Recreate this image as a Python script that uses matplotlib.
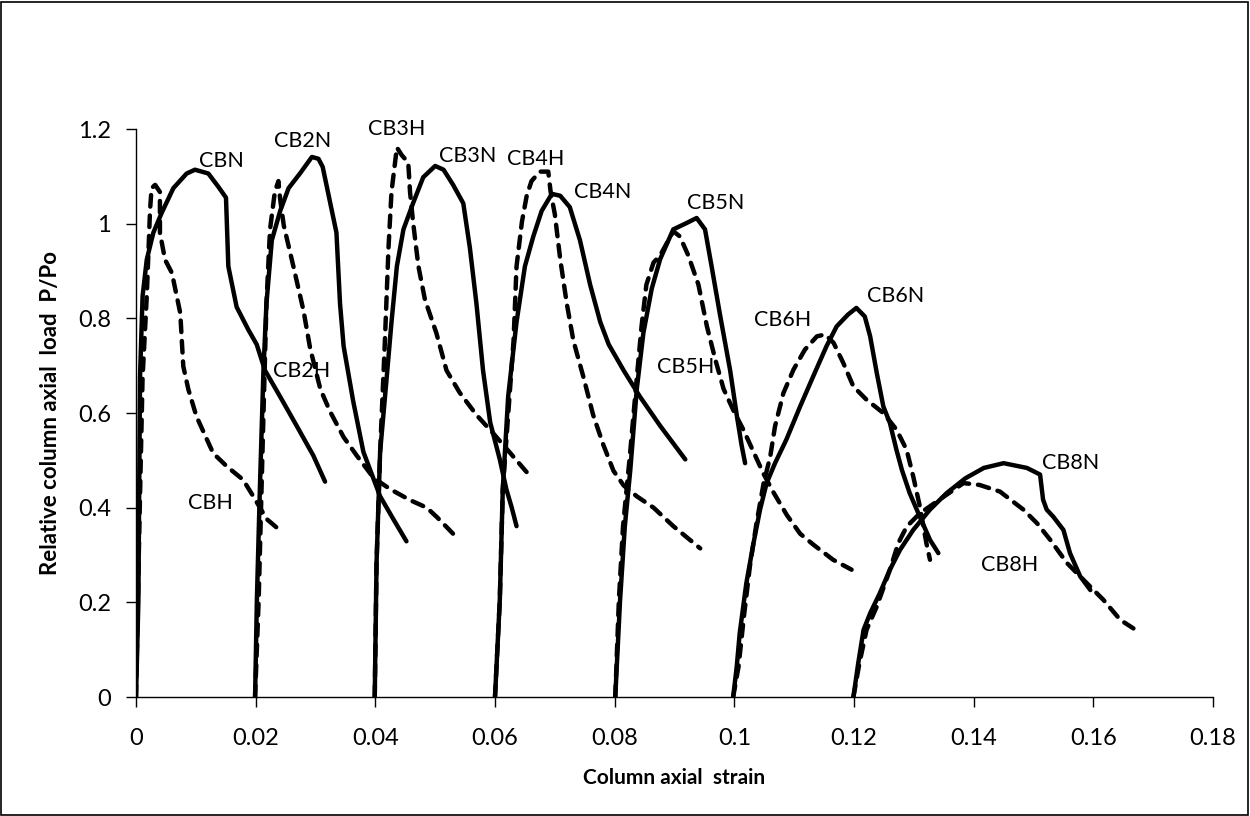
import matplotlib
matplotlib.use('Agg')
import matplotlib.pyplot as plt
from matplotlib.patches import Rectangle

plt.rcParams['font.family'] = ['Lato', 'DejaVu Sans']

# Relative axial load P/Po against axial strain
cbn_x = [0, 0.0004, 0.00067, 0.0011, 0.0018, 0.0029, 0.0043, 0.00624, 0.00847, 0.00986, 0.01209,
         0.01376, 0.01504, 0.01543, 0.01682, 0.01877, 0.02017, 0.02156, 0.02407, 0.02685, 0.02964, 0.0316]
cbn_y = [0, 0.204, 0.675, 0.847, 0.924, 0.981, 1.023, 1.075, 1.106, 1.114, 1.106,
         1.078, 1.055, 0.910, 0.824, 0.776, 0.745, 0.690, 0.635, 0.573, 0.510, 0.455]

cbh_x = [0, 0.00056, 0.0011, 0.0018, 0.00234, 0.0026, 0.0032, 0.0040, 0.0040, 0.00485, 0.0060,
         0.0074, 0.0079, 0.00875, 0.0101, 0.0129, 0.0152, 0.0179, 0.0196, 0.02184, 0.02435]
cbh_y = [0, 0.361, 0.675, 0.847, 1.027, 1.075, 1.082, 1.067, 0.981, 0.924, 0.896,
         0.811, 0.699, 0.650, 0.593, 0.515, 0.487, 0.459, 0.424, 0.376, 0.349]

cb2n_x = [0.0199, 0.0202, 0.0207, 0.0213, 0.0218, 0.0227, 0.0241, 0.0255, 0.0274, 0.0294, 0.0305,
          0.0312, 0.0335, 0.0341, 0.0347, 0.0363, 0.0380, 0.0394, 0.0408, 0.0430, 0.0452]
cb2n_y = [0, 0.204, 0.439, 0.690, 0.831, 0.965, 1.027, 1.075, 1.106, 1.141, 1.137,
          1.120, 0.981, 0.831, 0.741, 0.625, 0.518, 0.471, 0.424, 0.376, 0.329]

cb2h_x = [0.0199, 0.0205, 0.0213, 0.0218, 0.0224, 0.0232, 0.0238, 0.0241, 0.0247, 0.0263, 0.0280,
          0.0291, 0.0308, 0.0324, 0.0347, 0.0369, 0.0397, 0.0425, 0.0458, 0.0486, 0.0503, 0.0533]
cb2h_y = [0, 0.204, 0.596, 0.831, 0.988, 1.067, 1.090, 1.051, 0.996, 0.910, 0.816,
          0.737, 0.651, 0.604, 0.549, 0.510, 0.463, 0.439, 0.416, 0.400, 0.380, 0.341]

cb3h_x = [0.0399, 0.0402, 0.0408, 0.0416, 0.0422, 0.0427, 0.0436, 0.0444, 0.0455, 0.0458, 0.0463,
          0.0472, 0.0483, 0.0502, 0.0519, 0.0541, 0.0569, 0.0597, 0.0619, 0.0653]
cb3h_y = [0, 0.282, 0.518, 0.753, 0.949, 1.067, 1.161, 1.145, 1.129, 1.067, 1.004,
          0.910, 0.839, 0.769, 0.690, 0.643, 0.596, 0.557, 0.525, 0.475]

cb3n_x = [0.0399, 0.0402, 0.0408, 0.0419, 0.0427, 0.0436, 0.0447, 0.0463, 0.0480, 0.0500, 0.0514,
          0.0530, 0.0547, 0.0558, 0.0569, 0.0580, 0.0592, 0.0608, 0.0619, 0.0628, 0.0636]
cb3n_y = [0, 0.282, 0.518, 0.675, 0.792, 0.910, 0.988, 1.043, 1.098, 1.122, 1.114,
          1.082, 1.043, 0.949, 0.831, 0.690, 0.580, 0.502, 0.439, 0.400, 0.361]

cb4h_x = [0.0600, 0.0608, 0.0613, 0.0622, 0.0631, 0.0636, 0.0645, 0.0653, 0.0661, 0.0675, 0.0689,
          0.0693, 0.0700, 0.0709, 0.0720, 0.0731, 0.0748, 0.0764, 0.0781, 0.0798, 0.0815, 0.0837,
          0.0865, 0.0898, 0.0943]
cb4h_y = [0, 0.204, 0.439, 0.596, 0.753, 0.910, 1.004, 1.059, 1.090, 1.110, 1.110,
          1.067, 1.020, 0.925, 0.831, 0.753, 0.675, 0.596, 0.533, 0.478, 0.447, 0.424,
          0.400, 0.361, 0.314]

cb4n_x = [0.0600, 0.0608, 0.0613, 0.0622, 0.0636, 0.0650, 0.0664, 0.0678, 0.0695, 0.0709, 0.0725,
          0.0742, 0.0759, 0.0776, 0.0790, 0.0815, 0.0842, 0.0876, 0.0918]
cb4n_y = [0, 0.204, 0.439, 0.635, 0.792, 0.910, 0.973, 1.027, 1.063, 1.059, 1.035,
          0.965, 0.871, 0.792, 0.745, 0.690, 0.635, 0.573, 0.502]

cb5n_x = [0.0801, 0.0809, 0.0817, 0.0826, 0.0837, 0.0848, 0.0862, 0.0876, 0.0898, 0.0918, 0.0937,
          0.0951, 0.0962, 0.0976, 0.0993, 0.1004, 0.1012, 0.1018]
cb5n_y = [0, 0.204, 0.361, 0.478, 0.651, 0.769, 0.863, 0.925, 0.988, 1.000, 1.012,
          0.988, 0.910, 0.808, 0.690, 0.596, 0.533, 0.494]

cb5h_x = [0.0801, 0.0807, 0.0814, 0.0826, 0.0837, 0.0845, 0.0853, 0.0865, 0.0876, 0.0898, 0.0909,
          0.0923, 0.0940, 0.0954, 0.0968, 0.0982, 0.0999, 0.1015, 0.1032, 0.1049, 0.1066, 0.1088,
          0.1110, 0.1132, 0.1165, 0.1196]
cb5h_y = [0, 0.204, 0.361, 0.518, 0.675, 0.784, 0.871, 0.918, 0.933, 0.984, 0.973,
          0.933, 0.871, 0.784, 0.714, 0.651, 0.604, 0.565, 0.518, 0.471, 0.431, 0.384,
          0.345, 0.322, 0.290, 0.269]

cb6h_x = [0.0998, 0.1007, 0.1016, 0.1026, 0.1037, 0.1049, 0.1060, 0.1068, 0.1082, 0.1099, 0.1118,
          0.1138, 0.1152, 0.1166, 0.1182, 0.1199, 0.1221, 0.1249, 0.1271, 0.1288, 0.1299, 0.1310,
          0.1321, 0.1327]
cb6h_y = [0, 0.064, 0.170, 0.276, 0.367, 0.452, 0.508, 0.572, 0.642, 0.692, 0.734,
          0.762, 0.766, 0.748, 0.706, 0.656, 0.628, 0.600, 0.565, 0.522, 0.466, 0.403,
          0.325, 0.290]

cb6n_x = [0.0998, 0.1004, 0.1009, 0.1020, 0.1032, 0.1043, 0.1054, 0.1068, 0.1087, 0.1110, 0.1132,
          0.1154, 0.1171, 0.1190, 0.1204, 0.1218, 0.1227, 0.1238, 0.1249, 0.1260, 0.1271, 0.1280,
          0.1293, 0.1310, 0.1327, 0.1341]
cb6n_y = [0, 0.064, 0.135, 0.240, 0.325, 0.396, 0.452, 0.494, 0.544, 0.614, 0.678,
          0.741, 0.783, 0.808, 0.822, 0.804, 0.762, 0.685, 0.614, 0.579, 0.522, 0.480,
          0.431, 0.381, 0.332, 0.304]

cb8n_x = [0.1199, 0.1207, 0.1216, 0.1227, 0.1243, 0.1260, 0.1277, 0.1299, 0.1327, 0.1355, 0.1386,
          0.1417, 0.1450, 0.1489, 0.1511, 0.1516, 0.1522, 0.1533, 0.1550, 0.1561, 0.1578, 0.1595]
cb8n_y = [0, 0.071, 0.142, 0.177, 0.219, 0.269, 0.311, 0.353, 0.396, 0.431, 0.462,
          0.484, 0.494, 0.484, 0.470, 0.417, 0.396, 0.381, 0.353, 0.304, 0.255, 0.226]

cb8h_x = [0.1199, 0.1209, 0.1221, 0.1238, 0.1260, 0.1274, 0.1288, 0.1310, 0.1335, 0.1360, 0.1383,
          0.1410, 0.1444, 0.1483, 0.1506, 0.1528, 0.1556, 0.1584, 0.1617, 0.1645, 0.1667]
cb8h_y = [0, 0.071, 0.142, 0.191, 0.269, 0.325, 0.360, 0.388, 0.410, 0.432, 0.452,
          0.448, 0.434, 0.396, 0.367, 0.332, 0.283, 0.247, 0.205, 0.163, 0.145]

# curve labels and where they sit
label_names = ['CBN', 'CBH', 'CB2N', 'CB2H', 'CB3H', 'CB3N', 'CB4H', 'CB4N',
               'CB5N', 'CB5H', 'CB6H', 'CB6N', 'CB8N', 'CB8H']
label_x = [0.0142, 0.0124, 0.0278, 0.0277, 0.0435, 0.0554, 0.0668, 0.0780,
           0.0969, 0.0918, 0.1081, 0.1269, 0.1562, 0.1460]
label_y = [1.133, 0.409, 1.175, 0.688, 1.199, 1.142, 1.137, 1.066,
           1.043, 0.698, 0.796, 0.847, 0.494, 0.279]

x_ticks = [0, 0.02, 0.04, 0.06, 0.08, 0.1, 0.12, 0.14, 0.16, 0.18]
x_tick_labels = ['0', '0.02', '0.04', '0.06', '0.08', '0.1', '0.12', '0.14', '0.16', '0.18']
y_ticks = [0, 0.2, 0.4, 0.6, 0.8, 1.0, 1.2]
y_tick_labels = ['0', '0.2', '0.4', '0.6', '0.8', '1', '1.2']

fig = plt.figure(figsize=(12.5, 8.16), dpi=100)
ax = fig.add_axes([0.1088, 0.1458, 0.8616, 0.6961])

solid = [(cbn_x, cbn_y), (cb2n_x, cb2n_y), (cb3n_x, cb3n_y), (cb4n_x, cb4n_y),
         (cb5n_x, cb5n_y), (cb6n_x, cb6n_y), (cb8n_x, cb8n_y)]
dashed = [(cbh_x, cbh_y), (cb2h_x, cb2h_y), (cb3h_x, cb3h_y), (cb4h_x, cb4h_y),
          (cb5h_x, cb5h_y), (cb6h_x, cb6h_y), (cb8h_x, cb8h_y)]

for xs, ys in solid:
    ax.plot(xs, ys, color='black', lw=3.2, solid_capstyle='round', solid_joinstyle='round')
for xs, ys in dashed:
    ax.plot(xs, ys, color='black', lw=3.2, linestyle=(0, (2.6, 2.0)),
            dash_capstyle='round', dash_joinstyle='round')

for name, lx, ly in zip(label_names, label_x, label_y):
    ax.text(lx, ly, name, fontsize=15.5, ha='center', va='center')

ax.set_xlim(0, 0.18)
ax.set_ylim(0, 1.2)
ax.set_xticks(x_ticks)
ax.set_xticklabels(x_tick_labels)
ax.set_yticks(y_ticks)
ax.set_yticklabels(y_tick_labels)
ax.tick_params(direction='out', length=7, width=1, labelsize=17)
ax.tick_params(axis='x', pad=15)
ax.tick_params(axis='y', pad=11)

for side in ['top', 'right']:
    ax.spines[side].set_visible(False)
for side in ['left', 'bottom']:
    ax.spines[side].set_linewidth(1)

ax.set_xlabel('Column axial  strain', fontsize=15, fontweight='bold', labelpad=14)
ax.set_ylabel('Relative column axial  load  P/Po', fontsize=16, fontweight='bold', labelpad=12)

# thin frame round the whole chart area
fig.patches.append(Rectangle((0.001, 0.001), 0.997, 0.997, transform=fig.transFigure,
                             fill=False, edgecolor='black', lw=1.2))

fig.savefig('out.png', dpi=100)
